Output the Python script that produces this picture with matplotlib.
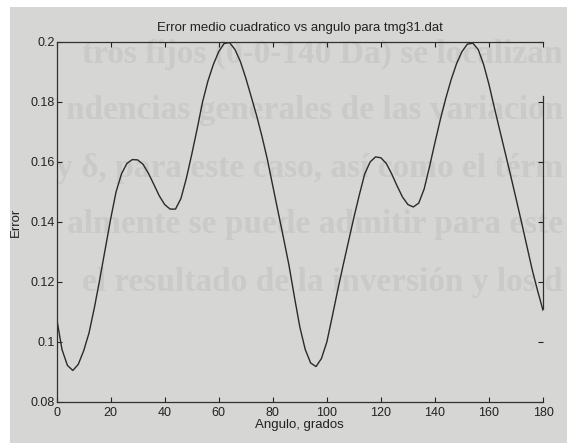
import numpy as np
import matplotlib.pyplot as plt
from matplotlib.patches import Rectangle

# error cuadratico medio frente al angulo (tmg31.dat)
angulo = [0, 2, 4, 6, 8, 10, 12, 14, 16, 18, 20, 22, 24, 26, 28, 30,
          32, 34, 36, 38, 40, 42, 44, 46, 48, 50, 52, 54, 56, 58, 60,
          62, 64, 66, 68, 70, 72, 74, 76, 78, 80, 82, 84, 86, 88, 90,
          92, 94, 96, 98, 100, 102, 104, 106, 108, 110, 112, 114, 116, 118, 120,
          122, 124, 126, 128, 130, 132, 134, 136, 138, 140, 142, 144, 146, 148, 150,
          152, 154, 156, 158, 160, 162, 164, 166, 168, 170, 172, 174, 176, 178, 180]
error = [0.1080, 0.0975, 0.0922, 0.0905, 0.0925, 0.0970, 0.1030, 0.1115, 0.1210, 0.1310, 0.1410,
         0.1500, 0.1560, 0.1595, 0.1608, 0.1607, 0.1592, 0.1562, 0.1525, 0.1487, 0.1458,
         0.1443, 0.1443, 0.1478, 0.1545, 0.1625, 0.1710, 0.1800, 0.1870, 0.1925, 0.1968,
         0.1995, 0.1998, 0.1975, 0.1935, 0.1880, 0.1818, 0.1755, 0.1685, 0.1608, 0.1520,
         0.1432, 0.1345, 0.1255, 0.1150, 0.1050, 0.0975, 0.0930, 0.0918, 0.0945, 0.1000,
         0.1085, 0.1172, 0.1255, 0.1335, 0.1415, 0.1490, 0.1560, 0.1600, 0.1617, 0.1614,
         0.1595, 0.1560, 0.1520, 0.1483, 0.1458, 0.1450, 0.1463, 0.1510, 0.1585, 0.1665,
         0.1742, 0.1812, 0.1875, 0.1928, 0.1968, 0.1993, 0.1996, 0.1975, 0.1925, 0.1858,
         0.1780, 0.1705, 0.1630, 0.1555, 0.1478, 0.1400, 0.1320, 0.1240, 0.1170, 0.1105]

xticks = [0, 20, 40, 60, 80, 100, 120, 140, 160, 180]
yticks = [0.08, 0.1, 0.12, 0.14, 0.16, 0.18, 0.2]
ytick_labels = ['0.08', '0.1', '0.12', '0.14', '0.16', '0.18', '0.2']

# texto de la pagina que se transparenta
fondo = ['tros fijos (0-0-140 Da) se localizan',
         'ndencias generales de las variacion',
         'y δ, para este caso, así como el térm',
         'almente se puede admitir para este',
         'el resultado de la inversión y los d']

papel = '#d6d6d4'
tinta = '#222222'

plt.rcParams['font.family'] = ['Liberation Sans', 'DejaVu Sans']

fig = plt.figure(figsize=(5.67, 4.43), dpi=100, facecolor=papel)
fig.patches.append(Rectangle((0, 0), 10 / 567, 1, transform=fig.transFigure,
                             facecolor='white', edgecolor='none', zorder=-5))
fig.patches.append(Rectangle((0, 1 - 7 / 443), 1, 7 / 443, transform=fig.transFigure,
                             facecolor='white', edgecolor='none', zorder=-5))

for i, linea in enumerate(fondo):
    fig.text(563 / 567, 1 - (54 + 57 * i) / 443, linea, family=['Liberation Serif', 'DejaVu Serif'],
             fontsize=24, fontweight='bold', color='#cacac8', va='center', ha='right', zorder=-1)

ax = fig.add_axes([0.0998, 0.0926, 0.858, 0.8126])
ax.patch.set_visible(False)
ax.plot(angulo, error, color='#2a2a2a', lw=1.0)

ax.set_xlim(0, 180)
ax.set_ylim(0.08, 0.2)
ax.set_xticks(xticks)
ax.set_yticks(yticks)
ax.set_yticklabels(ytick_labels)
ax.tick_params(direction='in', length=3.5, width=0.8, color=tinta, labelsize=9,
               labelcolor=tinta, top=True, right=True, pad=3.5)
ax.tick_params(axis='y', pad=1.5)

for lado in ['left', 'bottom', 'top', 'right']:
    ax.spines[lado].set_color('#303030')
    ax.spines[lado].set_linewidth(0.9)
ax.spines['right'].set_bounds(0.111, 0.182)

ax.set_title('Error medio cuadratico vs angulo para tmg31.dat', fontsize=9.5, color=tinta, pad=8)
ax.set_xlabel('Angulo, grados', fontsize=9.5, color=tinta, labelpad=0)
ax.set_ylabel('Error', fontsize=9.5, color=tinta, labelpad=6)

fig.savefig('out.png', dpi=100, facecolor=fig.get_facecolor())
